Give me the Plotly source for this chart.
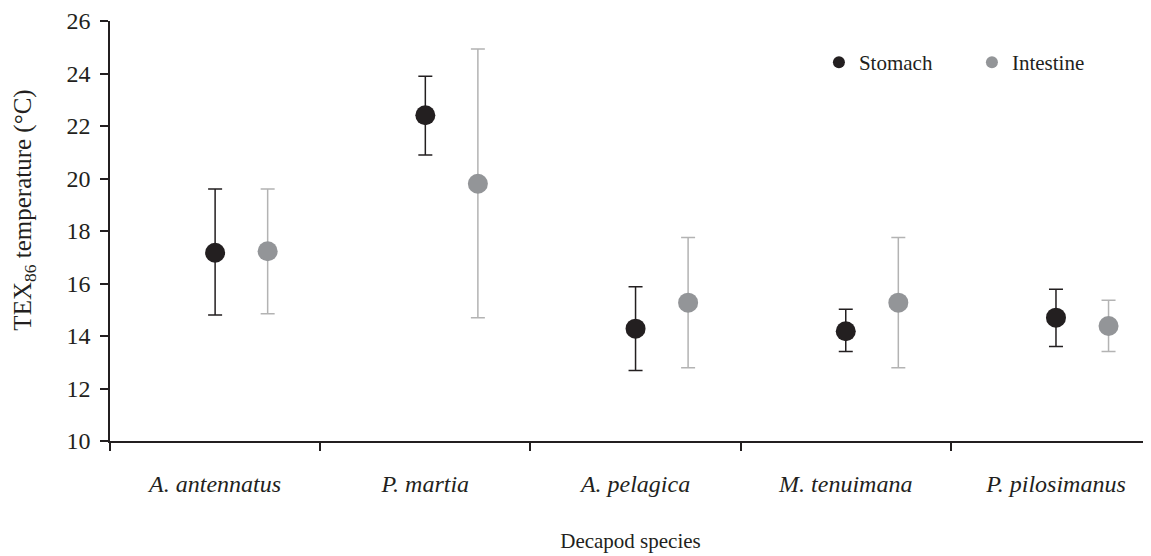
import plotly.graph_objects as go

species = ["A. antennatus", "P. martia", "A. pelagica", "M. tenuimana", "P. pilosimanus"]
stomach_mean = [17.17, 22.41, 14.28, 14.18, 14.70]
stomach_upper = [19.60, 23.90, 15.88, 15.02, 15.78]
stomach_lower = [14.80, 20.90, 12.69, 13.41, 13.60]
intestine_mean = [17.23, 19.80, 15.27, 15.27, 14.38]
intestine_upper = [19.60, 24.93, 17.75, 17.75, 15.36]
intestine_lower = [14.85, 14.70, 12.79, 12.79, 13.41]
y_ticks = [10, 12, 14, 16, 18, 20, 22, 24, 26]

centers = list(range(len(species)))
intestine_offset = 0.25
boundaries = [c - 0.5 for c in centers] + [centers[-1] + 0.5]

FONT = "Liberation Serif"
BLACK = "#231f20"
GRAY = "#939598"
GRAY_BAR = "#b3b3b3"

fig = go.Figure()
fig.add_trace(go.Scatter(
    x=centers, y=stomach_mean, mode="markers", name="Stomach",
    marker=dict(size=20, color=BLACK),
    error_y=dict(type="data", symmetric=False,
                 array=[u - m for u, m in zip(stomach_upper, stomach_mean)],
                 arrayminus=[m - l for m, l in zip(stomach_mean, stomach_lower)],
                 color=BLACK, thickness=1.5, width=7),
))
fig.add_trace(go.Scatter(
    x=[c + intestine_offset for c in centers], y=intestine_mean, mode="markers", name="Intestine",
    marker=dict(size=20, color=GRAY),
    error_y=dict(type="data", symmetric=False,
                 array=[u - m for u, m in zip(intestine_upper, intestine_mean)],
                 arrayminus=[m - l for m, l in zip(intestine_mean, intestine_lower)],
                 color=GRAY_BAR, thickness=1.5, width=7),
))

fig.update_layout(
    width=1151, height=556,
    margin=dict(l=102, r=8, t=13, b=123),
    paper_bgcolor="white", plot_bgcolor="white",
    font=dict(family=FONT, color=BLACK, size=22),
    showlegend=True,
    legend=dict(orientation="h", x=0.681, y=0.95, xanchor="left", yanchor="top",
                font=dict(size=21, family=FONT), entrywidth=108, entrywidthmode="pixels",
                itemsizing="constant", bgcolor="rgba(0,0,0,0)"),
    xaxis=dict(range=[-0.5, 4.452], tickmode="array", tickvals=centers,
               ticktext=["<i>%s</i>" % s for s in species], ticks="",
               ticklabelstandoff=20, tickfont=dict(size=24), automargin=False,
               showline=True, linecolor=BLACK, linewidth=1.5, showgrid=False, zeroline=False,
               minor=dict(tickmode="array", tickvals=boundaries, ticks="outside",
                          ticklen=8, tickcolor=BLACK, tickwidth=1.5, showgrid=False),
               title=dict(text="Decapod species", standoff=38, font=dict(size=21))),
    yaxis=dict(range=[10, 26], tickmode="array", tickvals=y_ticks, ticks="outside",
               ticklen=8, tickcolor=BLACK, tickwidth=1.5, ticklabelstandoff=5,
               automargin=False,
               showline=True, linecolor=BLACK, linewidth=1.5, showgrid=False, zeroline=False,
               tickfont=dict(size=24)),
    annotations=[dict(text="TEX<sub>86</sub> temperature (°C)", textangle=-90,
                      xref="paper", yref="paper", x=-0.082, y=0.55,
                      xanchor="center", yanchor="middle", showarrow=False,
                      font=dict(size=25, family=FONT, color=BLACK))],
)

fig.write_html("out.html")
